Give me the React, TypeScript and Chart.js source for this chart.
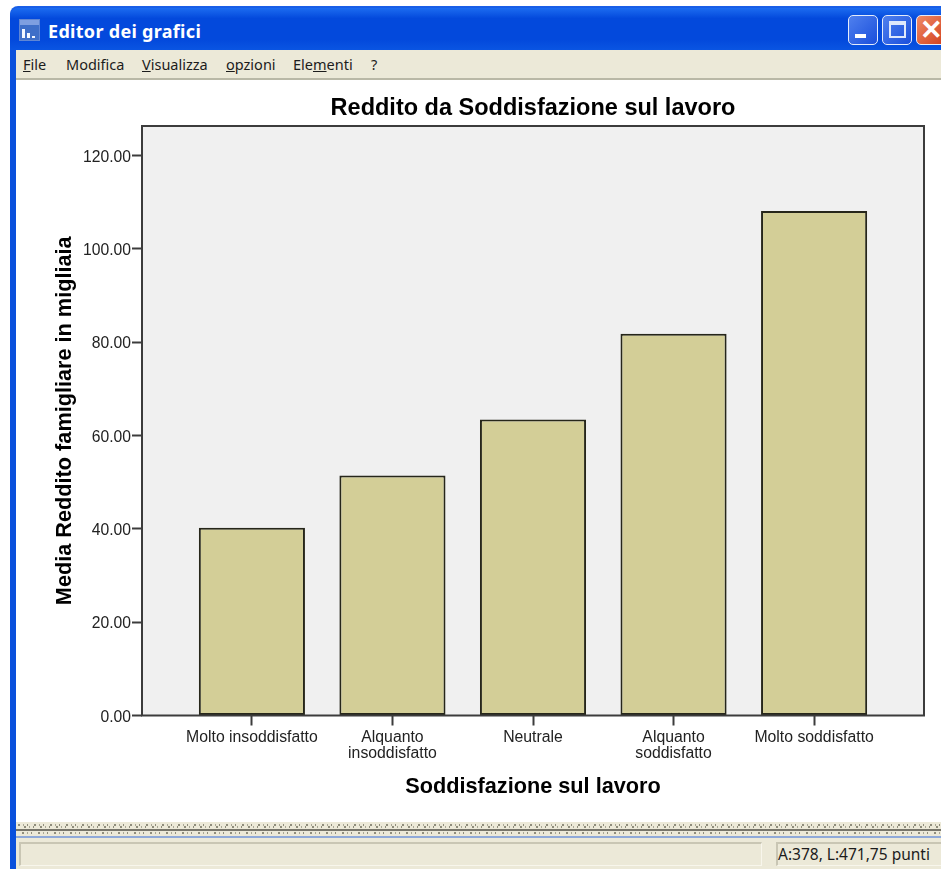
import React, { useEffect, useRef } from "react";
import { Chart, registerables } from "chart.js";

Chart.register(...registerables);

const categories: string[][] = [
  ["Molto insoddisfatto"],
  ["Alquanto", "insoddisfatto"],
  ["Neutrale"],
  ["Alquanto", "soddisfatto"],
  ["Molto soddisfatto"],
];
const values = [40.2, 51.4, 63.4, 81.8, 108.1];
const menuFile = "File";
const chartTitle = "Reddito da Soddisfazione sul lavoro";
const xTitle = "Soddisfazione sul lavoro";
const yTitle = "Media Reddito famigliare in migliaia";

const SANS = '"Liberation Sans", Arial, sans-serif';
const UI = '"Noto Sans", Tahoma, sans-serif';

const plotFrame = {
  id: "plotFrame",
  afterLayout(chart: any) {
    const t = chart.titleBlock;
    if (t) {
      t.left = chart.chartArea.left;
      t.right = chart.chartArea.right;
    }
  },
  beforeDatasetsDraw(chart: any) {
    const { ctx, chartArea: a } = chart;
    ctx.save();
    ctx.fillStyle = "#f0f0f0";
    ctx.fillRect(a.left, a.top, a.right - a.left, a.bottom - a.top);
    ctx.restore();
  },
  afterDatasetsDraw(chart: any) {
    const { ctx, chartArea: a } = chart;
    ctx.save();
    ctx.strokeStyle = "#3c3c3c";
    ctx.lineWidth = 2;
    ctx.strokeRect(a.left, a.top, a.right - a.left, a.bottom - a.top);
    ctx.restore();
  },
};

function Btn({ left, width, bg, children }: any) {
  return (
    <div
      style={{
        position: "absolute", left, top: 15, width, height: 30, boxSizing: "border-box",
        border: "1.5px solid #e4ecfb", borderRadius: 5, background: bg, overflow: "hidden",
      }}
    >
      {children}
    </div>
  );
}

function MenuItem({ left, children }: any) {
  return (
    <span style={{ position: "absolute", left, top: 54, font: `14.5px ${UI}`, color: "#1c1c1c", whiteSpace: "nowrap" }}>
      {children}
    </span>
  );
}

const speckle =
  "repeating-linear-gradient(90deg,transparent 0 2px,#8f8d7c 2px 4px,transparent 4px 7px,#a9a795 7px 8px,transparent 8px 11px,#8f8d7c 11px 12px,transparent 12px 16px)";

export default function App() {
  const ref = useRef<HTMLCanvasElement>(null);
  useEffect(() => {
    const chart = new Chart(ref.current!, {
      type: "bar",
      data: {
        datasets: [
          {
            data: values.map((v, i) => ({ x: i, y: v })),
            backgroundColor: "#d3ce97",
            borderColor: "#26261a",
            borderWidth: 2,
            borderSkipped: false,
            barPercentage: 0.755,
            categoryPercentage: 1,
          },
        ],
      },
      options: {
        responsive: false,
        animation: false,
        layout: { padding: { right: 17, left: 0, top: 0, bottom: 0 } },
        plugins: {
          legend: { display: false },
          tooltip: { enabled: false },
          title: {
            display: true,
            text: chartTitle,
            color: "#000",
            font: { family: SANS, size: 23.5, weight: "bold", lineHeight: 1.2 },
            padding: { top: 12, bottom: 3.8 },
          },
        },
        scales: {
          x: {
            type: "linear",
            offset: false,
            min: -0.782,
            max: 4.782,
            afterFit(s: any) { s.height = 104.5; },
            afterBuildTicks(s: any) {
              s.ticks = categories.map((_, i) => ({ value: i }));
            },
            grid: { offset: false, drawOnChartArea: false, drawTicks: true, tickLength: 10, tickColor: "#3c3c3c", tickWidth: 2 },
            border: { display: false },
            ticks: {
              autoSkip: false,
              minRotation: 0,
              maxRotation: 0,
              color: "#222",
              padding: 4,
              font: { family: SANS, size: 15.8, lineHeight: 1 },
              callback: (v: any) => categories[v],
            },
            title: {
              display: true,
              text: xTitle,
              color: "#000",
              font: { family: SANS, size: 21.7, weight: "bold", lineHeight: 1.2 },
              padding: { top: 20, bottom: 20 },
            },
          },
          y: {
            min: 0,
            max: 126.3,
            afterFit(s: any) { s.width = 125; },
            afterBuildTicks(s: any) {
              s.ticks = s.ticks.filter((t: any) => t.value % 20 === 0);
            },
            grid: { drawOnChartArea: false, tickLength: 10, tickColor: "#3c3c3c", tickWidth: 2 },
            border: { display: false },
            ticks: {
              stepSize: 20,
              color: "#222",
              padding: 1,
              labelOffset: 2,
              font: { family: SANS, size: 15.7 },
              callback: (v: any) => Number(v).toFixed(2),
            },
            title: {
              display: true,
              text: yTitle,
              color: "#000",
              font: { family: SANS, size: 21.7, weight: "bold", lineHeight: 1.2 },
              padding: { top: 35, bottom: 35 },
            },
          },
        },
      },
      plugins: [plotFrame],
    } as any);
    return () => chart.destroy();
  }, []);

  return (
    <div style={{ position: "fixed", left: 0, top: 0, width: 941, height: 869, background: "#fff", overflow: "hidden" }}>
      {/* window frame */}
      <div style={{ position: "absolute", left: 10, top: 6, width: 960, height: 880, borderRadius: "8px 8px 0 0", background: "linear-gradient(#1a5fe8 0, #0a50dc 3%, #0a50dc 100%)" }} />
      <div style={{ position: "absolute", left: 10, top: 8, width: 960, height: 42, borderRadius: "8px 8px 0 0", background: "linear-gradient(#1c6cf0, #0349dc 25%, #0349dc 75%, #0a55e2)" }} />
      {/* app icon */}
      <div style={{ position: "absolute", left: 19, top: 19, width: 21, height: 22, background: "linear-gradient(#7f9fe0 0 5px, #3f6fc8 5px)", border: "1px solid #5f86d4", boxSizing: "border-box" }}>
        <div style={{ position: "absolute", left: 2, bottom: 2, width: 3, height: 9, background: "#f2f6ff" }} />
        <div style={{ position: "absolute", left: 7, bottom: 2, width: 3, height: 5, background: "#f2f6ff" }} />
        <div style={{ position: "absolute", left: 12, bottom: 2, width: 3, height: 2, background: "#f2f6ff" }} />
      </div>
      <span style={{ position: "absolute", left: 48, top: 19, font: `bold 18px ${UI}`, color: "#fff", whiteSpace: "nowrap", letterSpacing: 0.3 }}>
        Editor dei grafici
      </span>
      <Btn left={848} width={30} bg="linear-gradient(135deg,#4f80ee,#1a4fdc)">
        <div style={{ position: "absolute", left: 6, bottom: 6, width: 11, height: 4, background: "#fff" }} />
      </Btn>
      <Btn left={882} width={30} bg="linear-gradient(135deg,#4f80ee,#1a4fdc)">
        <div style={{ position: "absolute", left: 6, top: 5, width: 17, height: 17, boxSizing: "border-box", border: "2px solid #dfe8fb", borderTopWidth: 4 }} />
      </Btn>
      <Btn left={916} width={30} bg="linear-gradient(135deg,#ef8a66,#d2401c)">
        <span style={{ position: "absolute", left: 3, top: -2, font: `bold 27px ${SANS}`, color: "#fff" }}>✕</span>
      </Btn>

      {/* client area */}
      <div style={{ position: "absolute", left: 16, top: 50, width: 925, height: 819, background: "#fff" }} />
      {/* menu bar */}
      <div style={{ position: "absolute", left: 16, top: 50, width: 925, height: 30, background: "#ece9d8", borderBottom: "2px solid #b9b8a6", boxSizing: "border-box" }} />
      <MenuItem left={23}><u>{menuFile[0]}</u>{menuFile.slice(1)}</MenuItem>
      <MenuItem left={66}>Modifica</MenuItem>
      <MenuItem left={142}><u>V</u>isualizza</MenuItem>
      <MenuItem left={226}><u>o</u>pzioni</MenuItem>
      <MenuItem left={293}>Ele<u>m</u>enti</MenuItem>
      <MenuItem left={371}>?</MenuItem>

      {/* chart */}
      <canvas ref={ref} width={924} height={738} style={{ position: "absolute", left: 17, top: 82, width: 924, height: 738, display: "block" }} />

      {/* splitter */}
      <div style={{ position: "absolute", left: 16, top: 822, width: 925, height: 14, background: "#ece9d8" }} />
      <div style={{ position: "absolute", left: 16, top: 824, width: 925, height: 2, background: speckle }} />
      <div style={{ position: "absolute", left: 22, top: 826, width: 919, height: 2, background: speckle }} />
      <div style={{ position: "absolute", left: 16, top: 829, width: 925, height: 2, background: "#77756a" }} />
      <div style={{ position: "absolute", left: 20, top: 832, width: 921, height: 2, background: speckle }} />
      <div style={{ position: "absolute", left: 16, top: 836, width: 925, height: 2, background: "#8fa9d8" }} />
      {/* status bar */}
      <div style={{ position: "absolute", left: 16, top: 838, width: 925, height: 31, background: "#ece9d8" }} />
      <div style={{ position: "absolute", left: 19, top: 842, width: 743, height: 24, boxSizing: "border-box", borderTop: "2px solid #c9c6b4", borderLeft: "2px solid #c9c6b4", borderBottom: "1px solid #f8f6ec", borderRight: "1px solid #f8f6ec" }} />
      <div style={{ position: "absolute", left: 776, top: 842, width: 165, height: 24, boxSizing: "border-box", borderTop: "2px solid #c9c6b4", borderLeft: "2px solid #c9c6b4", borderBottom: "1px solid #f8f6ec" }} />
      <span style={{ position: "absolute", left: 778, top: 843, font: `15.5px ${UI}`, color: "#1c1c1c", whiteSpace: "nowrap" }}>
        A:378, L:471,75 punti
      </span>
    </div>
  );
}
